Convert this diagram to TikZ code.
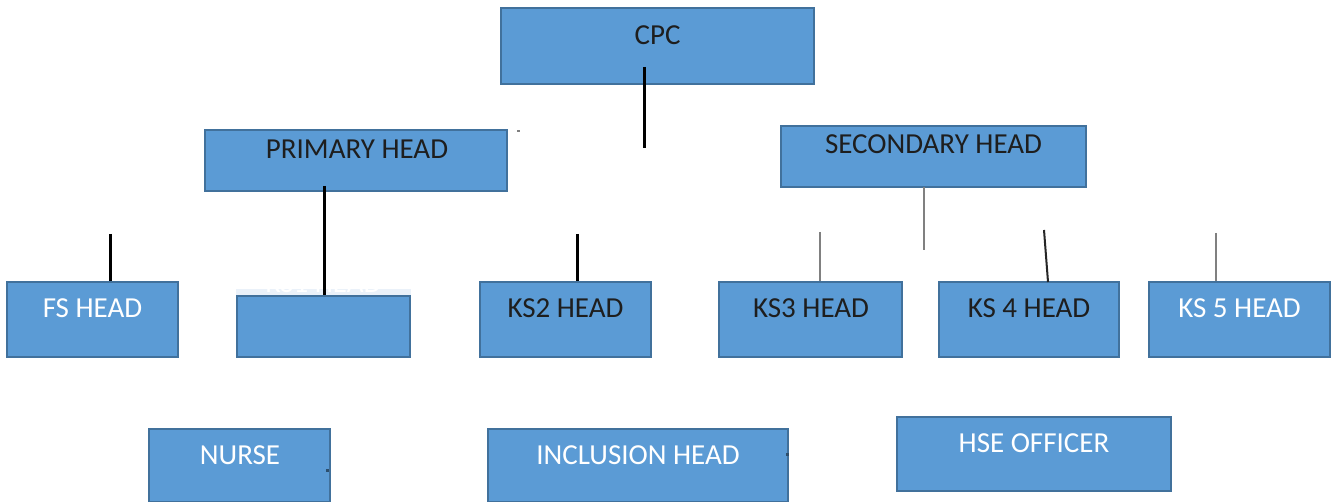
\documentclass[tikz,border=0pt]{standalone}
\usepackage{fontspec}
\setmainfont{Carlito}
\definecolor{boxfill}{HTML}{5B9BD5}
\definecolor{boxline}{HTML}{41719C}
\definecolor{darktxt}{HTML}{1E1E1E}
\definecolor{stubgray}{HTML}{808080}
\definecolor{paleblue}{HTML}{EAF1F9}
\tikzset{
  box/.style={draw=boxline, fill=boxfill, line width=2pt, rectangle, inner sep=0pt},
  lbl/.style={font=\fontsize{29}{34}\selectfont, inner sep=0pt, anchor=center},
  lbldark/.style={lbl, text=darktxt},
  lblwhite/.style={lbl, text=white},
  blackstub/.style={draw=black, line width=3pt},
  graystub/.style={draw=stubgray, line width=2.3pt},
  thinstub/.style={draw=black!85, line width=2pt}
}
\begin{document}
\begin{tikzpicture}[x=1pt,y=-1pt]
\useasboundingbox (0,0) rectangle (1332,502);
% boxes
\node[box, minimum width=313, minimum height=76] (cpc) at (657.5,46) {};
\node[box, minimum width=302, minimum height=61] (prim) at (356,160.5) {};
\node[box, minimum width=305, minimum height=61] (sec) at (933.5,156.5) {};
\node[box, minimum width=171, minimum height=75] (fs) at (92.5,319.5) {};
\node[box, minimum width=173, minimum height=61] (ks1) at (323.5,326.5) {};
\node[box, minimum width=171, minimum height=75] (ks2) at (565.5,319.5) {};
\node[box, minimum width=183, minimum height=75] (ks3) at (810.5,319.5) {};
\node[box, minimum width=180, minimum height=75] (ks4) at (1029,319.5) {};
\node[box, minimum width=181, minimum height=75] (ks5) at (1239.5,319.5) {};
\node[box, minimum width=181, minimum height=73] (nurse) at (239.5,465.5) {};
\node[box, minimum width=300, minimum height=73] (incl) at (638,465.5) {};
\node[box, minimum width=274, minimum height=74] (hse) at (1034,454) {};
% labels
\node[lbldark] (cpc-t) at (657.5,35) {CPC};
\node[lbldark] (prim-t) at (357,149) {PRIMARY HEAD};
\node[lbldark] (sec-t) at (933.5,144) {SECONDARY HEAD};
\node[lblwhite] (fs-t) at (92.5,308) {FS HEAD};
\node[lbldark] (ks2-t) at (565.5,308) {KS2 HEAD};
\node[lbldark] (ks3-t) at (811,308) {KS3 HEAD};
\node[lbldark] (ks4-t) at (1029,308) {KS 4 HEAD};
\node[lblwhite] (ks5-t) at (1239.5,308) {KS 5 HEAD};
\node[lblwhite] (nurse-t) at (240,455) {NURSE};
\node[lblwhite] (incl-t) at (638,455) {INCLUSION HEAD};
\node[lblwhite] (hse-t) at (1034,443) {HSE OFFICER};
% cut-off KS1 label
\begin{scope}
  \clip (236,289.5) rectangle (411,295.5);
  \fill[paleblue] (236,289.5) rectangle (411,295.5);
  \node[lblwhite] (ks1-t) at (323.5,283) {KS1 HEAD};
\end{scope}
% stub coordinates
\coordinate (cpcA) at (644,67);
\coordinate (cpcB) at (644,148);
\coordinate (primA) at (324,186);
\coordinate (secA) at (924,187);
\coordinate (secB) at (924,250);
\coordinate (fsA) at (110,234);
\coordinate (ks2A) at (577,234);
\coordinate (ks3A) at (820,232);
\coordinate (ks4A) at (1044,230);
\coordinate (ks4B) at (1048,282);
\coordinate (ks5A) at (1216,233);
% connectors
\draw[blackstub] (cpcA) -- (cpcB);
\draw[blackstub] (primA) -- (primA |- ks1.north);
\draw[graystub] (secA) -- (secB);
\draw[blackstub] (fsA) -- (fsA |- fs.north);
\draw[blackstub] (ks2A) -- (ks2A |- ks2.north);
\draw[graystub] (ks3A) -- (ks3A |- ks3.north);
\draw[thinstub] (ks4A) -- (ks4B);
\draw[graystub] (ks5A) -- (ks5A |- ks5.north);
% small specks
\fill[stubgray] (517,130) rectangle (519.5,132.5);
\fill[boxline!70!black] (326,469) rectangle (328.5,472);
\fill[boxline!70!black] (786,453) rectangle (788.5,456);
\end{tikzpicture}
\end{document}
